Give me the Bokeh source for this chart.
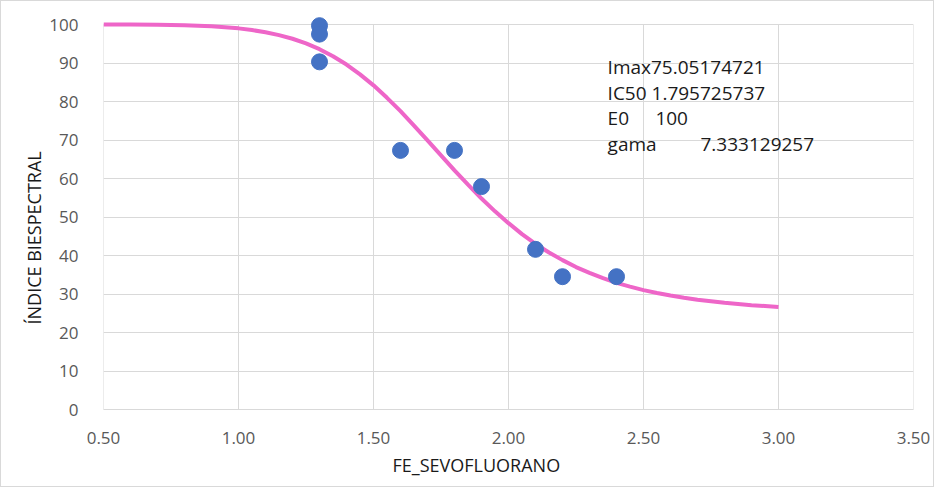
from bokeh.plotting import figure
from bokeh.models import FixedTicker, NumeralTickFormatter, Label, Title
from bokeh.embed import file_html
from bokeh.resources import INLINE

# observed points
fe_sevo = [1.3, 1.3, 1.3, 1.6, 1.8, 1.9, 2.1, 2.2, 2.4]
bis = [99.7, 97.5, 90.3, 67.3, 67.3, 57.9, 41.6, 34.5, 34.5]

# fitted curve
curve_x = [0.5, 0.6, 0.7, 0.8, 0.85, 0.9, 0.95, 1.0, 1.05, 1.1, 1.15, 1.2, 1.25,
           1.3, 1.35, 1.4, 1.45, 1.5, 1.55, 1.6, 1.65, 1.7, 1.75, 1.8, 1.85,
           1.9, 1.95, 2.0, 2.05, 2.1, 2.15, 2.2, 2.25, 2.3, 2.35, 2.4, 2.45,
           2.5, 2.55, 2.6, 2.65, 2.7, 2.75, 2.8, 2.85, 2.9, 2.95, 3.0]
curve_y = [100.0, 99.98, 99.92, 99.8, 99.69, 99.53, 99.3, 99.0, 98.56, 98.0,
           97.25, 96.3, 95.08, 93.6, 91.75, 89.6, 87.05, 84.2, 80.96, 77.5,
           73.76, 69.9, 66.01, 62.1, 58.39, 54.8, 51.47, 48.4, 45.56, 43.0,
           40.77, 38.8, 37.0, 35.5, 34.11, 32.9, 31.92, 31.0, 30.28, 29.6,
           29.04, 28.5, 28.11, 27.7, 27.4, 27.1, 26.87, 26.6]

x_ticks = [0.5, 1.0, 1.5, 2.0, 2.5, 3.0, 3.5]
y_ticks = [0, 10, 20, 30, 40, 50, 60, 70, 80, 90, 100]

params = [("Imax75.05174721", None), ("IC50 1.795725737", None),
          ("E0", "100"), ("gama", "7.333129257")]

FONT = "Open Sans"
GRID = "#d9d9d9"

p = figure(width=934, height=487, output_backend="svg", toolbar_location=None,
           x_range=(0.5, 3.5), y_range=(0, 103.9),
           min_border_left=102, min_border_right=22, min_border_top=8,
           min_border_bottom=79)
p.styles = {"border": "1px solid #d9d9d9"}
p.outline_line_color = None
p.background_fill_color = "white"
p.border_fill_color = "white"

for ax in (p.xaxis[0], p.yaxis[0]):
    ax.major_tick_line_color = None
    ax.minor_tick_line_color = None
    ax.major_label_text_font = FONT
    ax.major_label_text_font_size = "17px"
    ax.major_label_text_color = "#595959"
p.yaxis.axis_line_color = None
p.xaxis.axis_line_color = GRID

p.xaxis.ticker = FixedTicker(ticks=x_ticks)
p.yaxis.ticker = FixedTicker(ticks=y_ticks)
p.xaxis.formatter = NumeralTickFormatter(format="0.00")
p.xaxis.major_label_standoff = 16
p.yaxis.major_label_standoff = 19

p.xgrid.visible = False
p.ygrid.ticker = FixedTicker(ticks=y_ticks)
p.ygrid.grid_line_color = GRID
p.ygrid.grid_line_width = 1

# vertical gridlines limited to the value axis span
p.segment(x0=x_ticks, y0=[y_ticks[0]] * len(x_ticks), x1=x_ticks,
          y1=[y_ticks[-1]] * len(x_ticks), line_color=GRID, line_width=1)

p.add_layout(Title(text="FE_SEVOFLUORANO", align="left", offset=289,
                   text_font=FONT, text_font_size="18px", text_font_style="normal",
                   text_color="#1a1a1a", standoff=8), "below")
p.add_layout(Title(text="ÍNDICE BIESPECTRAL", align="left", offset=85,
                   text_font=FONT, text_font_size="18px", text_font_style="normal",
                   text_color="#1a1a1a", standoff=2), "left")

p.line(curve_x, curve_y, line_color="#EE66C8", line_width=4)
p.scatter(fe_sevo, bis, size=16, fill_color="#4472C4", line_color="#4472C4")

line_y = [89.0, 82.3, 75.6, 68.9]
for (a, b), yy in zip(params, line_y):
    p.add_layout(Label(x=2.367, y=yy, text=a, text_font=FONT, text_font_size="19px",
                       text_color="#1a1a1a", text_baseline="alphabetic"))
    if b is not None:
        bx = 2.544 if a == "E0" else 2.711
        p.add_layout(Label(x=bx, y=yy, text=b, text_font=FONT, text_font_size="19px",
                           text_color="#1a1a1a", text_baseline="alphabetic"))

open("out.html", "w").write(file_html(p, INLINE))
